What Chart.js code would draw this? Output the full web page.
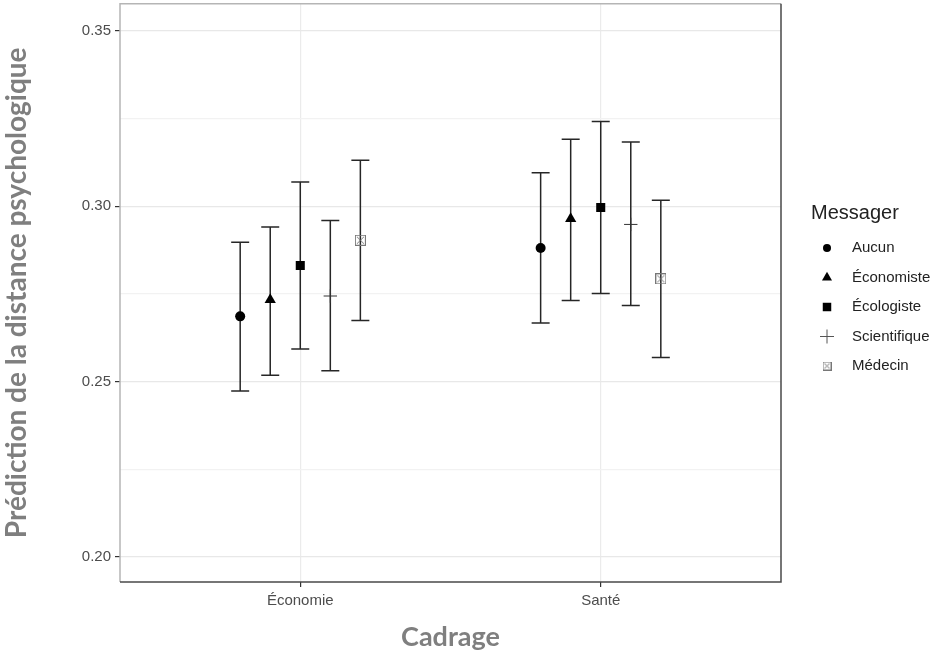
<!DOCTYPE html>
<html>
<head>
<meta charset="utf-8">
<script src="https://cdn.jsdelivr.net/npm/chart.js@4/dist/chart.umd.min.js"></script>
<style>
  html, body { margin: 0; padding: 0; background: #fff; }
  #wrap { width: 932px; height: 654px; overflow: hidden; }
  #c { display: block; margin-top: -4px; }
</style>
</head>
<body>
<div id="wrap"><canvas id="c" width="932" height="658"></canvas></div>
<script>
// categories on the x axis and the five messengers
const categories = ['Économie', 'Santé'];
const messagers = ['Aucun', 'Économiste', 'Écologiste', 'Scientifique', 'Médecin'];
const dodge = [-0.2, -0.1, 0, 0.1, 0.2];

// predicted value per messenger, one entry per category
const aucun = [0.2686, 0.2881];
const economiste = [0.2733, 0.2964];
const ecologiste = [0.2831, 0.2996];
const scientifique = [0.2744, 0.2948];
const medecin = [0.2903, 0.2793];

// lower / upper bounds of the intervals
const aucunLo = [0.2473, 0.2667];
const economisteLo = [0.2518, 0.2731];
const ecologisteLo = [0.2593, 0.2751];
const scientifiqueLo = [0.2531, 0.2717];
const medecinLo = [0.2674, 0.2569];

const aucunHi = [0.2897, 0.3095];
const economisteHi = [0.2941, 0.3191];
const ecologisteHi = [0.3069, 0.3241];
const scientifiqueHi = [0.2959, 0.3183];
const medecinHi = [0.3131, 0.3017];

const yTicks = [0.20, 0.225, 0.25, 0.275, 0.30, 0.325, 0.35];
const yMajor = [0.20, 0.25, 0.30, 0.35];

const values = [aucun, economiste, ecologiste, scientifique, medecin];
const lows = [aucunLo, economisteLo, ecologisteLo, scientifiqueLo, medecinLo];
const highs = [aucunHi, economisteHi, ecologisteHi, scientifiqueHi, medecinHi];

const isMajor = (v) => yMajor.some(m => Math.abs(m - v) < 1e-9);

// square with a cross inside, for Médecin
function boxCross(size, color) {
  const c = document.createElement('canvas');
  c.width = size; c.height = size;
  const g = c.getContext('2d');
  g.strokeStyle = color;
  g.lineWidth = 1;
  g.strokeRect(0.5, 0.5, size - 1, size - 1);
  g.beginPath();
  g.moveTo(2, 2); g.lineTo(size - 2, size - 2);
  g.moveTo(size - 2, 2); g.lineTo(2, size - 2);
  g.stroke();
  return c;
}
const medecinMark = boxCross(11, '#777');
const medecinKey = boxCross(9, '#777');

const styles = [
  { pointStyle: 'circle', radius: 5 },
  { pointStyle: 'triangle', radius: 6.5 },
  { pointStyle: 'rect', radius: 6.4 },
  { pointStyle: 'cross', radius: 6.7 },
  { pointStyle: medecinMark, radius: 5 }
];

const datasets = messagers.map((name, i) => ({
  label: name,
  data: categories.map((c, j) => ({ x: j + 1 + dodge[i], y: values[i][j] })),
  lo: lows[i],
  hi: highs[i],
  pointStyle: styles[i].pointStyle,
  pointRadius: styles[i].radius,
  backgroundColor: '#000',
  borderColor: i === 3 ? '#333' : '#000',
  borderWidth: i === 3 ? 1 : 0,
  showLine: false
}));

const errorBars = {
  id: 'errorBars',
  beforeDatasetsDraw(chart) {
    const { ctx, scales: { x, y } } = chart;
    ctx.save();
    ctx.strokeStyle = '#262626';
    ctx.lineWidth = 1.5;
    chart.data.datasets.forEach((ds) => {
      ds.data.forEach((p, j) => {
        const px = x.getPixelForValue(p.x);
        const y0 = y.getPixelForValue(ds.lo[j]);
        const y1 = y.getPixelForValue(ds.hi[j]);
        ctx.beginPath();
        ctx.moveTo(px, y0); ctx.lineTo(px, y1);
        ctx.moveTo(px - 9, y0); ctx.lineTo(px + 9, y0);
        ctx.moveTo(px - 9, y1); ctx.lineTo(px + 9, y1);
        ctx.stroke();
      });
    });
    ctx.restore();
  }
};

const panelBorder = {
  id: 'panelBorder',
  afterDraw(chart) {
    const { ctx, chartArea: a } = chart;
    ctx.save();
    ctx.lineWidth = 1.5;
    ctx.strokeStyle = '#b5b5b5';
    ctx.beginPath();
    ctx.moveTo(a.left, a.bottom); ctx.lineTo(a.left, a.top); ctx.lineTo(a.right, a.top);
    ctx.stroke();
    ctx.strokeStyle = '#4a4a4a';
    ctx.beginPath();
    ctx.moveTo(a.right, a.top); ctx.lineTo(a.right, a.bottom); ctx.lineTo(a.left, a.bottom);
    ctx.stroke();
    ctx.restore();
  }
};

// legend drawn by hand (canvas is shifted up 4px, so +4 here)
const legendBox = {
  id: 'legendBox',
  afterDraw(chart) {
    const ctx = chart.ctx;
    const keyX = 827, textX = 852, top = 252, step = 29.5;
    ctx.save();
    ctx.fillStyle = '#222';
    ctx.font = '20px "Liberation Sans", Arial, sans-serif';
    ctx.textBaseline = 'middle';
    ctx.fillText('Messager', 811, 217);
    ctx.font = '15px "Liberation Sans", Arial, sans-serif';
    messagers.forEach((name, i) => {
      const yy = top + i * step;
      ctx.fillStyle = '#000';
      ctx.strokeStyle = '#555';
      ctx.lineWidth = 1;
      if (i === 4) {
        ctx.drawImage(medecinKey, keyX - 4.5, yy - 4.5);
      } else {
        const r = [4, 5.8, 6, 7][i];
        Chart.helpers.drawPoint(ctx, { pointStyle: styles[i].pointStyle, radius: r, borderWidth: i === 3 ? 1 : 0, rotation: 0 }, keyX, yy);
      }
      ctx.fillStyle = '#222';
      ctx.fillText(name, textX, yy);
    });
    ctx.restore();
  }
};

new Chart(document.getElementById('c'), {
  type: 'scatter',
  data: { datasets },
  plugins: [errorBars, panelBorder, legendBox],
  options: {
    responsive: false,
    animation: false,
    layout: { padding: { left: 0, top: 0, right: 151, bottom: 0 } },
    plugins: { legend: { display: false }, tooltip: { enabled: false } },
    scales: {
      x: {
        type: 'linear',
        min: 0.4,
        max: 2.6,
        afterFit(s) { s.height = 72; s.paddingLeft = 0; s.paddingRight = 0; },
        afterBuildTicks(s) { s.ticks = categories.map((c, j) => ({ value: j + 1 })); },
        ticks: {
          callback: (v) => categories[Math.round(v) - 1],
          color: '#4d4d4d',
          font: { family: '"Liberation Sans", Arial, sans-serif', size: 15 },
          padding: 5
        },
        grid: { color: '#ebebeb', lineWidth: 1.2, tickColor: '#333', tickLength: 5, tickWidth: 1.2 },
        border: { display: false },
        title: {
          display: true,
          text: 'Cadrage',
          color: '#7f7f7f',
          font: { family: 'Lato, sans-serif', size: 27, weight: 'bold' },
          padding: 1
        }
      },
      y: {
        min: 0.1929,
        max: 0.3577,
        afterFit(s) { s.width = 120; s.paddingTop = 0; s.paddingBottom = 0; },
        afterBuildTicks(s) { s.ticks = yTicks.map(v => ({ value: v })); },
        ticks: {
          callback: (v) => isMajor(v) ? v.toFixed(2) : '',
          color: '#4d4d4d',
          font: { family: '"Liberation Sans", Arial, sans-serif', size: 15 },
          padding: 4
        },
        grid: {
          color: (c) => isMajor(c.tick.value) ? '#e8e8e8' : '#f2f2f2',
          lineWidth: 1.2,
          tickColor: (c) => isMajor(c.tick.value) ? '#333' : 'rgba(0,0,0,0)',
          tickLength: 5,
          tickWidth: 1.2
        },
        border: { display: false },
        title: {
          display: true,
          text: 'Prédiction de la distance psychologique',
          color: '#7f7f7f',
          font: { family: 'Lato, sans-serif', size: 28, weight: 'bold' },
          padding: 0
        }
      }
    }
  }
});
</script>
</body>
</html>
